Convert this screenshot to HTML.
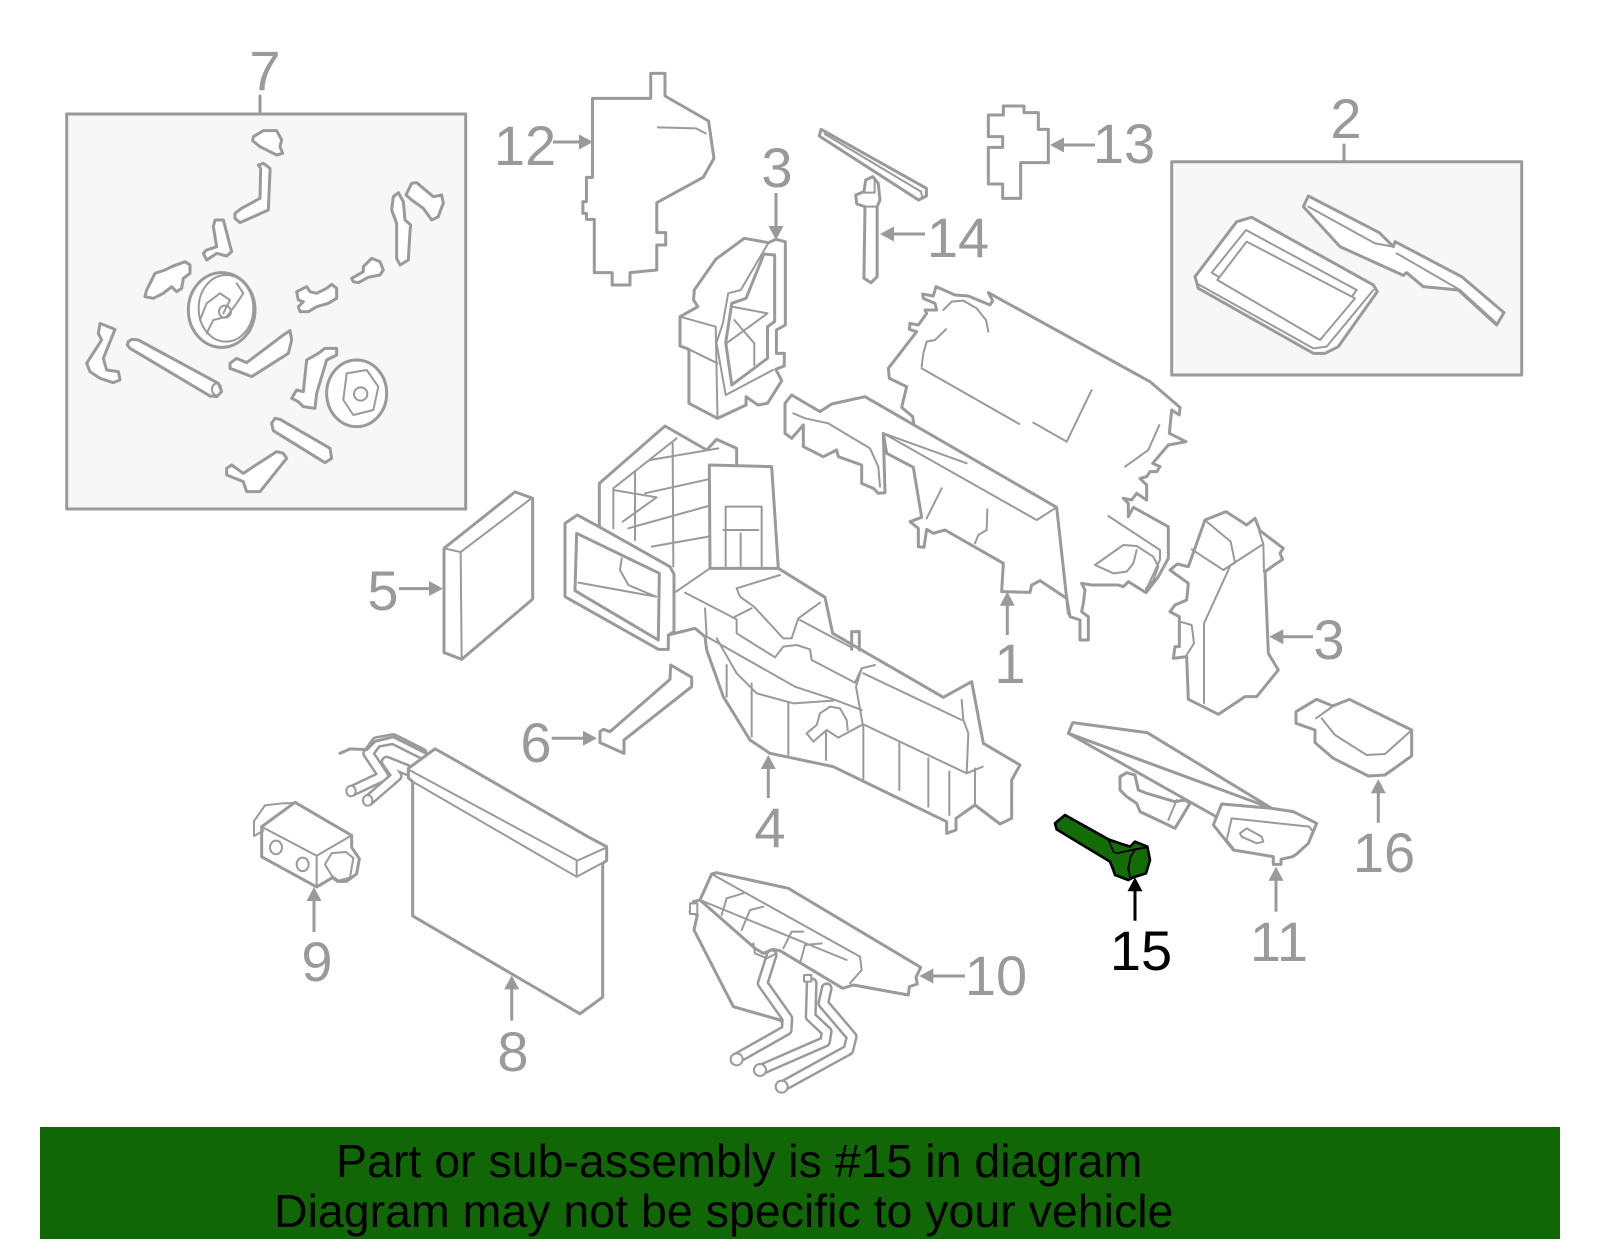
<!DOCTYPE html>
<html><head><meta charset="utf-8"><style>
html,body{margin:0;padding:0;background:#fff;}
body{width:1600px;height:1249px;overflow:hidden;}
svg{display:block;}
.d polygon,.d polyline,.d path,.d line,.d ellipse,.d circle,.d rect{stroke:#9a9a9a;stroke-width:3;stroke-linejoin:round;stroke-linecap:round;vector-effect:non-scaling-stroke;}
.d polygon,.d ellipse,.d circle{fill:#fff;}
.d polyline,.d line,.d path{fill:none;}
.d .t{stroke-width:2;}
.d .nf{fill:none;}
.lbl{font-family:"Liberation Sans",Arial,sans-serif;font-size:56px;fill:#9a9a9a;text-anchor:middle;}
.ah{fill:#9a9a9a;stroke:none;}
.al{stroke:#9a9a9a;stroke-width:3;}
</style></head><body>
<svg width="1600" height="1249" viewBox="0 0 1600 1249" xmlns="http://www.w3.org/2000/svg">
<rect x="0" y="0" width="1600" height="1249" fill="#fff"/>

<g class="d">
<!-- Box 7 -->
<rect x="66.7" y="114" width="399" height="395" fill="#f7f7f7"/>
<line x1="260" y1="96" x2="260" y2="114"/>
<g transform="translate(50,40) scale(0.33333)">
<polygon points="610,290 640,272 680,272 695,300 690,320 698,340 680,345 630,320 608,302"/>
<polygon points="555,520 575,505 630,475 632,385 625,375 640,370 660,385 660,395 655,510 570,548 555,535"/>
<polygon points="460,640 470,630 500,620 490,560 495,540 520,540 545,635 530,648 500,640 470,660"/>
<polygon points="285,770 290,750 315,700 345,690 365,680 405,665 420,675 420,700 400,715 395,745 380,755 365,740 340,760 310,775"/>
<ellipse cx="515" cy="810" rx="100" ry="112"/>
<ellipse cx="528" cy="805" rx="82" ry="100" class="t nf"/>
<polyline class="t" points="470,880 490,840 530,830 560,790 580,760 560,730"/>
<polyline class="t" points="450,840 470,790 510,760 540,780 520,820"/>
<circle cx="525" cy="815" r="18" class="t nf"/>
<polygon points="235,905 245,898 265,900 505,1030 515,1055 500,1070 480,1068 240,925 232,915"/>
<ellipse cx="500" cy="1048" rx="14" ry="18" class="t nf"/>
<polygon points="110,970 155,900 145,880 150,850 195,868 160,955 170,990 205,995 210,1020 190,1028 150,1015 120,995"/>
<polygon points="540,970 560,955 590,968 700,885 720,872 725,900 715,940 605,1010 580,1000 540,985"/>
<polygon points="725,1075 740,1050 760,1055 770,960 805,940 825,925 860,925 860,945 830,960 800,1060 795,1105 760,1100 745,1085"/>
<ellipse cx="920" cy="1060" rx="90" ry="100"/>
<polygon class="t" points="890,1000 950,990 985,1040 970,1110 910,1125 880,1080"/>
<circle cx="932" cy="1062" r="20" class="t nf"/>
<polygon points="665,1150 675,1135 690,1138 840,1225 845,1255 825,1268 670,1172"/>
<polygon points="530,1285 545,1275 580,1300 610,1280 680,1235 700,1240 710,1255 630,1355 590,1355 580,1325 530,1305"/>
<polygon points="1030,470 1045,458 1060,485 1065,540 1082,555 1080,575 1075,660 1050,675 1040,655 1040,550 1025,510"/>
<polygon points="1068,465 1085,430 1100,428 1150,470 1175,465 1180,490 1170,515 1165,530 1145,540 1120,505 1085,480"/>
<polygon points="905,715 940,695 940,680 965,655 990,665 1000,690 990,705 955,712 925,728 910,725"/>
<polygon points="740,755 770,740 780,755 800,760 830,745 845,733 860,745 860,775 835,790 800,800 775,815 750,815 745,800 760,785 745,780"/>
</g>

<!-- Box 2 -->
<rect x="1171.7" y="161.7" width="350" height="213.3" fill="#f7f7f7"/>
<line x1="1344" y1="145" x2="1344" y2="161.7"/>
<g transform="translate(1140,90) scale(0.33333)">
<polygon points="165,560 290,395 335,382 700,585 712,605 595,770 555,790 520,790 175,595"/>
<polygon class="t" points="215,548 318,420 650,600 545,745"/>
<polygon class="t" points="232,570 320,455 645,625 540,750"/>
<polyline class="t" points="170,580 520,775 560,770 700,600"/>
<polygon points="490,350 505,318 718,428 760,470 765,455 965,560 1092,668 1070,705 955,600 850,590 800,548 790,556 600,470"/>
<polyline class="t" points="505,350 705,460 760,470"/>
<polyline class="t" points="770,490 960,600 1070,700"/>
</g>

<!-- Part 12, 3 top, 14 -->
<g transform="translate(480,60) scale(0.35714,0.33333)">
<polygon points="315,115 478,115 478,40 518,40 518,108 640,183 655,295 625,352 495,428 495,518 520,518 520,555 495,555 495,630 420,638 420,675 370,675 370,638 320,638 320,478 298,478 298,460 288,460 288,425 298,425 298,352 315,352"/>
<polyline class="t" points="498,202 605,205 632,220"/>
<polygon points="740,535 808,548 828,538 855,545 855,795 830,810 830,880 852,880 852,918 828,928 845,962 805,1030 778,1035 745,1010 745,1035 665,1075 585,1030 585,868 560,858 560,770 610,740 598,720 600,690 660,598"/>
<polyline class="t" points="560,770 660,800 665,1075"/>
<polyline class="t" points="585,868 665,910"/>
<polygon class="nf" points="795,582 825,585 825,785 805,800 805,895 705,975 688,848 705,730 745,715"/>
<polyline class="t" points="808,548 730,690 695,700 680,790 662,848 688,1005 820,930"/>
<polyline class="t" points="705,740 805,760 690,850"/>
<polyline class="t" points="712,780 768,850 768,915"/>
<polygon points="955,208 1250,385 1250,408 1228,420 950,228"/>
<polyline class="t" points="965,222 1235,395 1238,410"/>
<polygon points="1080,360 1100,350 1115,370 1120,420 1112,440 1112,650 1095,668 1075,655 1078,440 1055,432 1052,405 1075,395"/>
<polyline class="t" points="1078,440 1112,440"/>
<polyline class="t" points="1075,398 1105,398 1105,360"/>
</g>

<!-- Part 13 -->
<g transform="translate(960,90) scale(0.33333)">
<polygon points="85,75 130,75 130,48 192,48 192,68 235,68 235,118 265,118 265,218 182,218 182,325 128,325 128,282 85,282 85,172 128,172 128,140 85,140"/>
</g>

<!-- Part 4 and 6 -->
<g transform="translate(550,420) scale(0.33333)">
<polyline points="148,322 148,190 345,18 470,90 500,58 560,85 560,130"/>
<polyline class="t" points="190,325 190,205 380,55"/>
<polyline class="t" points="255,155 255,360"/>
<polyline class="t" points="368,70 370,440"/>
<polyline class="t" points="300,120 505,85"/>
<polyline class="t" points="285,220 475,178"/>
<polyline class="t" points="235,325 475,258"/>
<polyline class="t" points="305,380 475,350"/>
<polyline class="t" points="190,210 320,232 218,305"/>
<polygon points="478,135 665,140 685,445 480,445"/>
<polyline class="t" points="527,438 527,260 635,260 635,438"/>
<polyline class="t" points="520,330 625,330"/>
<polyline class="t" points="572,340 572,438"/>
<polygon points="45,310 82,285 150,322 360,440 372,462 372,635 355,645 355,688 325,688 45,530"/>
<polygon class="nf" points="80,340 328,460 325,660 75,512"/>
<polyline class="t" points="85,488 318,530"/>
<polyline class="t" points="215,415 210,450 235,495 318,530"/>
<polyline class="t" points="378,515 480,445"/>
<polyline points="685,445 825,532 848,640"/>
<polyline points="848,640 1180,832 1265,785 1300,970 1410,1035 1385,1080 1385,1195 1350,1212 1275,1155 1218,1195 1218,1230 1190,1240 1190,1205 850,1040 660,1000 600,960 520,830 470,690 465,650 435,625 355,645"/>
<polyline class="t" points="405,518 560,598 560,640 675,712 700,680 740,675 780,688 785,720 915,788"/>
<polyline class="t" points="470,650 735,800 850,838 935,870"/>
<polyline class="t" points="500,655 560,760 620,820 730,850 850,842"/>
<polyline class="t" points="915,788 935,745 975,735"/>
<polyline class="t" points="560,505 570,530 612,560 700,655 725,655 745,595 810,548"/>
<polyline class="t" points="560,505 690,465"/>
<polyline class="t" points="555,590 605,565"/>
<polyline class="t" points="750,600 900,680"/>
<polyline class="t" points="940,760 1235,900"/>
<polyline class="t" points="465,565 470,650"/>
<polyline class="t" points="935,745 918,800 938,912 1250,1060 1255,940 1240,900 1235,840"/>
<polyline points="905,688 905,635 928,635 928,690"/>
<polyline class="t" points="530,735 530,830"/>
<polyline class="t" points="605,790 605,950"/>
<polyline class="t" points="715,850 715,1005"/>
<polyline class="t" points="828,935 828,1020"/>
<polyline class="t" points="940,915 940,1080"/>
<polyline class="t" points="1048,970 1048,1110"/>
<polyline class="t" points="1135,1015 1135,1160"/>
<polyline class="t" points="1198,1055 1198,1185"/>
<polyline class="t" points="1275,1045 1275,1155"/>
<polyline class="t" points="1250,1060 1298,1040"/>
<polyline class="t" points="770,940 800,915 810,880 840,860 870,865 890,900 893,930"/>
<polyline class="t" points="770,940 790,965 830,930 865,953 935,915"/>
<polygon points="150,935 160,928 180,935 360,778 362,735 425,772 425,800 222,960 222,1000 150,968"/>
</g>

<!-- Part 1 -->
<g transform="translate(770,270) scale(0.33333)">
<polyline points="432,465 428,440 395,412 410,350 358,325 355,295 440,185 418,178 420,160 445,165 470,130 465,120 500,120 495,100 460,85 458,72 490,78 498,50 555,75 595,78 660,105 668,92 655,68 1140,335 1230,412 1228,435 1205,420 1198,490 1248,515 1195,525 1148,580 1170,590 1160,605 1140,605 1130,620 1110,625 1130,645 1130,690 1100,670 1085,690 1060,685 1075,700 1075,740 1090,712 1195,770 1195,865 1165,920 1128,968 1075,935 1060,950 1045,945 965,945 935,940 945,960 940,1000 935,1025 955,1040 955,1110 930,1110 930,1050 900,1040 890,985"/>
<polyline points="45,490 45,400 65,375 150,425 185,402 285,380 860,712 895,1030"/>
<polyline points="45,490 65,505 100,465 100,530 160,560 200,540 205,560 275,585 275,640 310,655 325,670 345,668 340,490 350,550 430,592 455,742 420,755 445,775 445,830 462,832 470,778 490,790 525,780 700,880 695,965 780,967 785,945 810,932 890,985"/>
<polyline class="t" points="340,490 800,750 860,712"/>
<polyline class="t" points="340,490 590,580"/>
<polyline class="t" points="70,430 105,445 175,460 300,535 325,590 330,650"/>
<polyline class="t" points="470,745 515,655"/>
<polyline class="t" points="615,820 625,795 650,780 652,718"/>
<polyline class="t" points="455,295 748,462"/>
<polyline class="t" points="790,458 890,515 965,360"/>
<polyline class="t" points="455,290 460,250 470,215 495,210 528,178"/>
<polyline class="t" points="520,120 545,95 580,92 620,115 648,150 655,185"/>
<polyline class="t" points="1065,590 1135,540 1168,465"/>
<polyline class="t" points="1015,738 1170,840 1170,870 1128,960"/>
<polyline class="t" points="975,885 1060,825 1100,828 1150,860 1165,890 1150,930 1128,955"/>
<polyline class="t" points="975,885 1030,910 1070,905 1090,880 1100,840"/>
</g>

<!-- Parts 5, 8, 9 -->
<g transform="translate(240,490) scale(0.33333,0.37627)">
<polygon points="612,155 825,5 878,22 878,290 665,450 612,432"/>
<polyline class="t" points="612,155 662,165 665,450"/>
<polyline class="t" points="662,165 870,25"/>
<path d="M545,700 L460,662 L410,670 L385,700 L430,760 L335,800" style="stroke-width:12"/>
<path d="M545,700 L460,662 L410,670 L385,700 L430,760 L335,800" style="stroke:#fff;stroke-width:7"/>
<path d="M505,745 L440,722 L470,760 L385,825" style="stroke-width:12"/>
<path d="M505,745 L440,722 L470,760 L385,825" style="stroke:#fff;stroke-width:7"/>
<polyline points="300,700 330,688 380,690 405,668 460,656 555,698"/>
<ellipse cx="333" cy="800" rx="14" ry="14" class="t"/>
<ellipse cx="383" cy="825" rx="14" ry="14" class="t"/>
<polygon points="505,740 585,688 640,715 1045,922 1100,948 1100,985 1088,992 1088,1348 1020,1392 518,1132 518,775 505,765"/>
<polyline class="t" points="518,775 1010,1028 1100,985"/>
<polyline class="t" points="1010,985 1010,1028"/>
<polyline class="t" points="510,745 1012,985 1100,950"/>
<polygon points="65,895 165,830 335,918 335,950 358,980 350,1020 320,1040 292,1040 278,1030 230,1055 65,975"/>
<polyline class="t" points="65,895 230,972 335,918"/>
<polyline class="t" points="230,972 230,1055"/>
<ellipse cx="108" cy="950" rx="18" ry="18" class="t nf"/>
<ellipse cx="188" cy="995" rx="18" ry="18" class="t nf"/>
<polyline class="t" points="70,905 42,920 42,880 75,838 125,833 165,832"/>
<polygon class="t" points="255,995 275,965 318,962 340,978 330,1030 295,1038 275,1025"/>
</g>

<!-- Part 3 right, 11, 16 -->
<g transform="translate(1060,500) scale(0.33333)">
<polygon points="435,60 498,35 560,75 585,55 600,92 670,145 660,160 668,178 650,190 615,215 625,460 655,510 590,590 555,590 475,643 385,598 380,470 340,475 345,440 358,440 358,350 330,335 345,315 380,300 385,250 330,210 352,192 385,200"/>
<polyline class="t" points="395,148 490,210 610,132 598,95"/>
<polyline class="t" points="440,65 512,125 525,188 490,210"/>
<polyline class="t" points="512,195 432,370 432,610"/>
<polyline class="t" points="360,365 395,375 402,430 380,465"/>
<polyline class="t" points="610,132 612,215"/>
<polygon points="708,635 770,598 818,618 868,598 1055,690 1055,768 975,825 925,828 820,775 765,728 765,690 708,670"/>
<polyline class="t" points="768,655 820,618"/>
<polyline class="t" points="785,655 825,705 920,765 975,762 1050,695"/>
<polygon points="180,830 200,818 225,825 235,870 260,880 345,905 375,900 390,910 345,985 325,975 240,935 230,910 200,890 180,870"/>
<polyline class="t" points="350,900 325,960"/>
<polygon points="25,700 38,668 262,698 635,925 700,935 770,970 745,1030 710,1062 698,1070 663,1078 663,1093 640,1093 640,1070 520,1050 460,975 485,912 635,925"/>
<polyline points="25,700 465,948"/>
<polyline class="t" points="515,955 748,980 755,990"/>
<polyline class="t" points="515,955 500,1020 520,1045"/>
<polygon class="t" points="540,1000 560,985 605,1010 610,1025 590,1030 545,1010"/>
</g>

<!-- Part 10 -->
<g transform="translate(680,860) scale(0.33333)">
<polyline points="60,120 40,125 30,155 52,165 42,210 160,440 300,480 325,505"/>
<path d="M275,285 L248,370 L322,475 L320,510 L170,595" style="stroke-width:12"/>
<path d="M275,285 L248,370 L322,475 L320,510 L170,595" style="stroke:#fff;stroke-width:7"/>
<path d="M395,370 L392,470 L440,515 L435,545 L240,630" style="stroke-width:12"/>
<path d="M395,370 L392,470 L440,515 L435,545 L240,630" style="stroke:#fff;stroke-width:7"/>
<path d="M440,385 L430,430 L515,530 L505,570 L305,680" style="stroke-width:12"/>
<path d="M440,385 L430,430 L515,530 L505,570 L305,680" style="stroke:#fff;stroke-width:7"/>
<circle cx="170" cy="598" r="18" class="t"/>
<circle cx="240" cy="630" r="18" class="t"/>
<circle cx="305" cy="680" r="18" class="t"/>
<polygon points="95,42 110,38 325,85 722,322 708,352 712,372 688,380 685,405 520,375 488,385 300,272 278,268 250,280 225,265 60,120"/>
<polyline class="t" points="95,42 540,290 545,330 510,370"/>
<polyline class="t" points="60,120 500,300"/>
<polyline class="t" points="125,165 140,115 190,100"/>
<polyline class="t" points="185,210 210,150 250,140"/>
<polyline class="t" points="310,265 335,215 370,215"/>
<polyline class="t" points="360,310 375,255 425,250"/>
<polyline class="t" points="220,250 225,280 260,295 290,280"/>
<rect x="30" y="130" width="22" height="32" class="t" fill="#fff"/>
<rect x="372" y="345" width="22" height="20" class="t" fill="#fff"/>
</g>
</g>

<!-- Part 15 (highlighted) -->
<g transform="translate(1020,790) scale(0.33333)">
<polygon points="105,100 135,75 265,148 300,160 330,170 345,155 382,170 390,210 378,250 340,262 325,270 285,255 280,240 270,215 110,118" style="fill:#146c07;stroke:#000;stroke-width:8;stroke-linejoin:round"/>
<polyline points="290,190 345,178 380,172" style="fill:none;stroke:#000;stroke-width:6"/>
<polyline points="345,178 332,200 325,235 330,262" style="fill:none;stroke:#000;stroke-width:6"/>
<polyline points="265,148 280,185 290,190" style="fill:none;stroke:#000;stroke-width:5"/>
</g>

<!-- Arrows -->
<line class="al" x1="553" y1="142" x2="582" y2="142"/><polygon class="ah" points="593,142 579,134.5 579,149.5"/>
<line class="al" x1="776" y1="193" x2="776" y2="228"/><polygon class="ah" points="776,240 768.5,226 783.5,226"/>
<line class="al" x1="925" y1="234" x2="892" y2="234"/><polygon class="ah" points="880,234 894,226.5 894,241.5"/>
<line class="al" x1="1095" y1="145" x2="1062" y2="145"/><polygon class="ah" points="1050,145 1064,137.5 1064,152.5"/>
<line class="al" x1="399" y1="588.6" x2="431" y2="588.6"/><polygon class="ah" points="443,588.6 429,581 429,596"/>
<line class="al" x1="551.7" y1="738.3" x2="584" y2="738.3"/><polygon class="ah" points="597,738.3 583,730.8 583,745.8"/>
<line class="al" x1="314" y1="932" x2="314" y2="899"/><polygon class="ah" points="314,887 306.5,901 321.5,901"/>
<line class="al" x1="511.7" y1="1020.6" x2="511.7" y2="988"/><polygon class="ah" points="511.7,975.4 504.2,989.4 519.2,989.4"/>
<line class="al" x1="768.3" y1="798" x2="768.3" y2="767"/><polygon class="ah" points="768.3,755 760.8,769 775.8,769"/>
<line class="al" x1="1007.3" y1="635" x2="1007.3" y2="604"/><polygon class="ah" points="1007.3,591.7 999.8,605.7 1014.8,605.7"/>
<line class="al" x1="1313" y1="636.7" x2="1282" y2="636.7"/><polygon class="ah" points="1269.3,636.7 1283.3,629.2 1283.3,644.2"/>
<line class="al" x1="1378.3" y1="822.7" x2="1378.3" y2="791"/><polygon class="ah" points="1378.3,779.3 1370.8,793.3 1385.8,793.3"/>
<line class="al" x1="1276" y1="911.7" x2="1276" y2="879"/><polygon class="ah" points="1276,866.7 1268.5,880.7 1283.5,880.7"/>
<line x1="1135" y1="920.7" x2="1135" y2="889" stroke="#000" stroke-width="3"/><polygon points="1135,877.3 1127.5,891.3 1142.5,891.3" fill="#000"/>
<line class="al" x1="965" y1="976" x2="932" y2="976"/><polygon class="ah" points="919.3,976 933.3,968.5 933.3,983.5"/>

<!-- Labels -->
<text class="lbl" x="265" y="90">7</text>
<text class="lbl" x="525" y="165">12</text>
<text class="lbl" x="777" y="187">3</text>
<text class="lbl" x="958" y="257">14</text>
<text class="lbl" x="1124" y="163">13</text>
<text class="lbl" x="1346" y="138">2</text>
<text class="lbl" x="1010" y="683">1</text>
<text class="lbl" x="1329" y="659">3</text>
<text class="lbl" x="1384" y="872">16</text>
<text class="lbl" x="1279" y="961">11</text>
<text class="lbl" x="1141" y="970" style="fill:#000">15</text>
<text class="lbl" x="383" y="610">5</text>
<text class="lbl" x="536" y="762">6</text>
<text class="lbl" x="317" y="981">9</text>
<text class="lbl" x="513" y="1071">8</text>
<text class="lbl" x="770" y="847">4</text>
<text class="lbl" x="996" y="995">10</text>

<!-- Banner -->
<rect x="40" y="1127" width="1520" height="112" fill="#116605"/>
<text x="336" y="1177" font-family="Liberation Sans, Arial, sans-serif" font-size="46.5" fill="#000">Part or sub-assembly is #15 in diagram</text>
<text x="274" y="1227" font-family="Liberation Sans, Arial, sans-serif" font-size="46.5" fill="#000">Diagram may not be specific to your vehicle</text>
</svg>
</body></html>
